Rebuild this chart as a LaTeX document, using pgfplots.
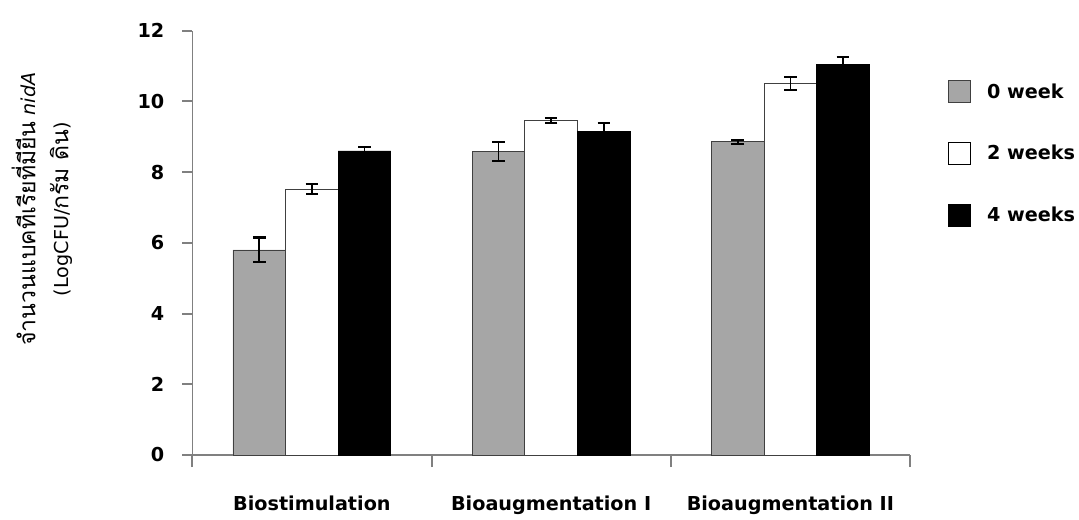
\documentclass[border=0pt]{standalone}
\usepackage{pgfplots}
\pgfplotsset{compat=1.18}
\usepackage{fontspec}
\setmainfont{DejaVu Sans}
\newfontfamily\thaifont[Script=Thai, Scale=1.2]{Loma}
\definecolor{bargray}{RGB}{166,166,166}
\definecolor{axgray}{RGB}{128,128,128}
\pgfplotsset{errstyle/.style={draw=none, mark=none, forget plot,
  error bars/.cd, y dir=both, y explicit,
  error bar style={black, line width=1.2pt},
  error mark options={black, line width=1.6pt, mark size=4.7pt, rotate=90}}}
\begin{document}
\begin{tikzpicture}
\path[use as bounding box] (0,0) rectangle (809.25pt,389.25pt);
\begin{axis}[
  at={(144.2pt,48pt)}, anchor=south west,
  width=538.3pt, height=318.2pt, scale only axis,
  xmin=-0.5, xmax=2.5, ymin=0, ymax=12,
  enlargelimits=false,
  axis lines*=left,
  axis line style={axgray, line width=0.8pt},
  ytick={0,2,...,12},
  xtick={0,1,2},
  xticklabels={Biostimulation, Bioaugmentation I, Bioaugmentation II},
  minor xtick={-0.5,0.5,1.5,2.5},
  tick align=outside,
  major x tick style={draw=none},
  tick style={axgray, line width=1.5pt},
  major tick length=7.5pt,
  minor tick length=9pt,
  /pgf/number format/assume math mode=true,
  tick label style={font=\bfseries\fontsize{14.4}{17}\selectfont},
  xticklabel style={yshift=-20pt},
  yticklabel style={xshift=-10pt},
  legend style={at={(1.053,0.884)}, anchor=north west, draw=none, fill=none,
    inner sep=0pt, row sep=29pt, font=\bfseries\fontsize{14.4}{17}\selectfont},
  legend cell align=left,
]
\addplot[ybar, bar width=0.22, bar shift=-0.22, fill=bargray, draw=black!75, line width=0.6pt, forget plot]
  coordinates {(0,5.80) (1,8.58) (2,8.86)};
\addplot[ybar, bar width=0.22, bar shift=0, fill=white, draw=black!75, line width=0.6pt, forget plot]
  coordinates {(0,7.52) (1,9.45) (2,10.51)};
\addplot[ybar, bar width=0.22, bar shift=0.22, fill=black, draw=black, line width=0.6pt, forget plot]
  coordinates {(0,8.60) (1,9.16) (2,11.05)};
% error bars (x shifted to bar centres)
\addplot[errstyle] coordinates {(-0.22,5.80) +- (0,0.35) (0.78,8.58) +- (0,0.27) (1.78,8.86) +- (0,0.06)};
\addplot[errstyle] coordinates {(0,7.52) +- (0,0.15) (1,9.45) +- (0,0.07) (2,10.51) +- (0,0.18)};
\addplot[errstyle] coordinates {(0.22,8.60) +- (0,0.12) (1.22,9.16) +- (0,0.24) (2.22,11.05) +- (0,0.20)};
\addlegendimage{legend image code/.code={\draw[fill=bargray, draw=black!75, line width=0.75pt] (0pt,-8.25pt) rectangle (16.5pt,8.25pt); \path (26.5pt,0pt);}}
\addlegendentry{0 week}
\addlegendimage{legend image code/.code={\draw[fill=white, draw=black, line width=0.75pt] (0pt,-8.25pt) rectangle (16.5pt,8.25pt); \path (26.5pt,0pt);}}
\addlegendentry{2 weeks}
\addlegendimage{legend image code/.code={\draw[fill=black, draw=black, line width=0.75pt] (0pt,-8.25pt) rectangle (16.5pt,8.25pt); \path (26.5pt,0pt);}}
\addlegendentry{4 weeks}
\end{axis}
\node[rotate=90, align=center, font=\fontsize{14.4}{24.75}\selectfont] at (31.5pt,232.5pt)
  {{\thaifont จำนวนแบคทีเรียที่มียีน} \textit{nidA}\\(LogCFU/{\thaifont กรัม ดิน})};
\end{tikzpicture}
\end{document}
